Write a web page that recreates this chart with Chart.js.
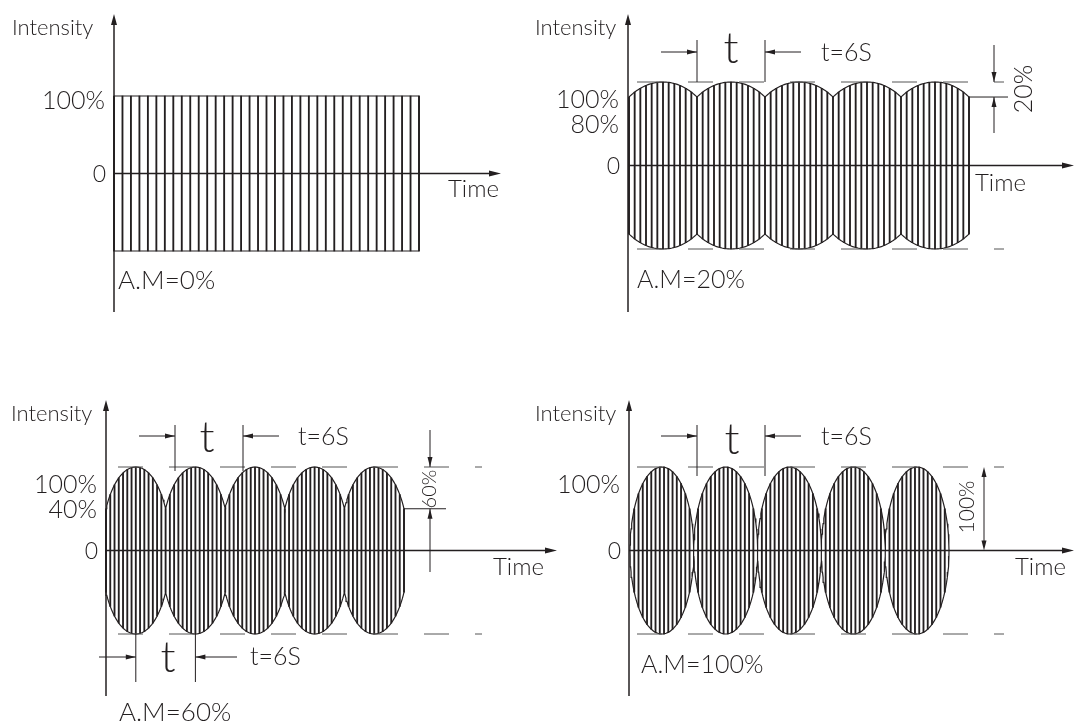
<!DOCTYPE html>
<html>
<head>
<meta charset="utf-8">
<script src="https://cdn.jsdelivr.net/npm/chart.js@4.4.1/dist/chart.umd.min.js"></script>
<style>
  body { margin: 0; background: #fff; width: 1075px; height: 724px; position: relative; overflow: hidden; }
  canvas { position: absolute; }
</style>
</head>
<body>
<canvas id="c1" width="520" height="340" style="left:0;top:0"></canvas>
<canvas id="c2" width="555" height="340" style="left:520px;top:0"></canvas>
<canvas id="c3" width="560" height="339" style="left:0;top:385px"></canvas>
<canvas id="c4" width="555" height="339" style="left:520px;top:385px"></canvas>
<script>
// ---- data ----
const amLabels = ['A.M=0%', 'A.M=20%', 'A.M=60%', 'A.M=100%'];
const amDepth = [0, 20, 60, 100];
const troughLevel = [100, 82, 50, 0];      // where the lobes meet, as drawn (%)
const lobeCount = [0, 5, 5, 5];
const pulseCount = [36, 60, 70, 75];       // carrier lines in each panel
const levelLabels = [['100%'], ['100%', '80%'], ['100%', '40%'], ['100%']];
const periodSec = 6;                       // t = 6S
const durationSec = 30;
const peak = 100;

const ink = '#231f20';
const font = 'Lato, "Open Sans", sans-serif';

// page positions of each panel (layout only)
const frames = [
  { left: 0,   top: 0,   w: 520, h: 340, x0: 114, x1: 419, yTop: 96,  yBot: 251, axisX: 114, axisTop: 14,  axisBot: 312, arrowX: 501,  labelX: 12 },
  { left: 520, top: 0,   w: 555, h: 340, x0: 629, x1: 969, yTop: 82,  yBot: 249, axisX: 628, axisTop: 14,  axisBot: 312, arrowX: 1074, labelX: 535 },
  { left: 0,   top: 385, w: 560, h: 339, x0: 106, x1: 404, yTop: 467, yBot: 634, axisX: 106, axisTop: 400, axisBot: 696, arrowX: 557,  labelX: 11 },
  { left: 520, top: 385, w: 555, h: 339, x0: 630, x1: 949, yTop: 467, yBot: 634, axisX: 629, axisTop: 400, axisBot: 696, arrowX: 1074, labelX: 535 }
];

function envelope(t, m) {
  if (m >= 1) return peak;
  const half = periodSec / 2;
  const u = ((t % periodSec) - half) / half;
  return peak * Math.sqrt(Math.max(0, 1 - (1 - m * m) * u * u));
}

function outline(m, lobes) {
  if (lobes === 0 || m >= 1) {
    return [{x: 0, y: peak}, {x: durationSec, y: peak}, {x: durationSec, y: -peak}, {x: 0, y: -peak}, {x: 0, y: peak}];
  }
  const half = periodSec / 2;
  const th0 = Math.asin(Math.sqrt(1 - m * m));
  const rx = half / Math.sin(th0);
  const top = [];
  for (let k = 0; k < lobes; k++) {
    const cx = k * periodSec + half;
    for (let i = 0; i <= 48; i++) {
      const th = -th0 + 2 * th0 * i / 48;
      top.push({x: cx + rx * Math.sin(th), y: peak * Math.cos(th)});
    }
  }
  const bot = top.map(p => ({x: p.x, y: -p.y})).reverse();
  return top.concat(bot, [top[0]]);
}

function pulses(i) {
  const m = troughLevel[i] / 100;
  const out = [];
  for (let k = 0; k <= pulseCount[i]; k++) {
    const t = k * durationSec / pulseCount[i];
    const e = envelope(t, m);
    out.push({x: t, y: [-e, e]});
  }
  return out;
}

// ---- drawing helpers (page coordinates) ----
function head(ctx, x, y, dir, len = 10, hw = 3) {
  ctx.beginPath();
  if (dir === 'up')    { ctx.moveTo(x, y); ctx.lineTo(x - hw, y + len); ctx.lineTo(x + hw, y + len); }
  if (dir === 'down')  { ctx.moveTo(x, y); ctx.lineTo(x - hw, y - len); ctx.lineTo(x + hw, y - len); }
  if (dir === 'left')  { ctx.moveTo(x, y); ctx.lineTo(x + len, y - hw); ctx.lineTo(x + len, y + hw); }
  if (dir === 'right') { ctx.moveTo(x, y); ctx.lineTo(x - len, y - hw); ctx.lineTo(x - len, y + hw); }
  ctx.closePath();
  ctx.fill();
}
function line(ctx, x1, y1, x2, y2, w = 1) {
  ctx.lineWidth = w;
  ctx.beginPath(); ctx.moveTo(x1, y1); ctx.lineTo(x2, y2); ctx.stroke();
}
function text(ctx, s, x, y, size, align = 'left', weight = '300') {
  ctx.font = weight + ' ' + size + 'px ' + font;
  ctx.textAlign = align;
  ctx.textBaseline = 'alphabetic';
  ctx.fillText(s, x, y);
}
function vtext(ctx, s, cx, cy, size) {
  ctx.save();
  ctx.translate(cx, cy);
  ctx.rotate(-Math.PI / 2);
  ctx.font = '300 ' + size + 'px ' + font;
  ctx.textAlign = 'center';
  ctx.textBaseline = 'middle';
  ctx.fillText(s, 0, 0);
  ctx.restore();
}
function dashed(ctx, y, xs, xe) {
  ctx.save();
  ctx.strokeStyle = '#555';
  ctx.setLineDash([25, 26]);
  line(ctx, xs, y, xe, y, 1);
  ctx.restore();
}
function tGlyph(ctx, cx, baseline) {
  ctx.font = '300 44px Lato, sans-serif';
  ctx.textAlign = 'center';
  ctx.fillText('t', cx, baseline);
}
// horizontal dimension: extension lines at xa, xb, arrows pointing in from outside
function dim(ctx, xa, xb, yExtTop, yExtBot, yArr, outerL, outerR) {
  line(ctx, xa, yExtTop, xa, yExtBot);
  line(ctx, xb, yExtTop, xb, yExtBot);
  line(ctx, outerL, yArr, xa, yArr); head(ctx, xa, yArr, 'right', 10, 2.5);
  line(ctx, outerR, yArr, xb, yArr); head(ctx, xb, yArr, 'left', 10, 2.5);
}

function decor(i) {
  const f = frames[i];
  return {
    id: 'decor' + i,
    afterDraw(chart) {
      const ctx = chart.ctx;
      const X = t => chart.scales.x.getPixelForValue(t) + f.left;
      const Y = v => chart.scales.y.getPixelForValue(v) + f.top;
      ctx.save();
      ctx.translate(-f.left, -f.top);
      ctx.strokeStyle = ink; ctx.fillStyle = ink;

      // axes
      line(ctx, f.axisX, f.axisBot, f.axisX, f.axisTop + 6, 1.5);
      head(ctx, f.axisX, f.axisTop, 'up', 11, 3);
      const y0 = Y(0);
      line(ctx, f.axisX, y0, f.arrowX - 6, y0, 1.6);
      head(ctx, f.arrowX, y0, 'right', 12, 3);

      // common labels
      text(ctx, 'Intensity', f.labelX, f.axisTop + 21, 22);
      const lab = levelLabels[i];
      if (i === 0) {
        text(ctx, lab[0], f.axisX - 9, Y(peak) + 13, 25, 'right');
      } else {
        text(ctx, lab[0], f.axisX - 9, Y(peak) + 26, 25, 'right');
        if (lab[1]) text(ctx, lab[1], f.axisX - 9, Y(peak) + 51, 25, 'right');
      }
      text(ctx, '0', f.axisX - 8, y0 + 8, 23, 'right');

      if (i === 0) {
        text(ctx, 'Time', 448, 197, 24);
        text(ctx, amLabels[0], 118, 289, 26);
      }
      if (i === 1) {
        text(ctx, 'Time', 975, 191, 24);
        text(ctx, amLabels[1], 637, 288, 25);
        dashed(ctx, Y(peak), 637, 1004);
        dashed(ctx, Y(-peak), 637, 1004);
        dim(ctx, X(periodSec), X(2 * periodSec), 40, Y(peak), 52, 661, 801);
        tGlyph(ctx, 731, 63);
        text(ctx, 't=6S', 821, 61, 25);
        const yt = Y(troughLevel[1]);
        line(ctx, X(durationSec), yt, 1008, yt);
        line(ctx, 994, 45, 994, Y(peak)); head(ctx, 994, Y(peak), 'down', 10, 2.5);
        line(ctx, 994, 133, 994, yt); head(ctx, 994, yt, 'up', 10, 2.5);
        vtext(ctx, '20%', 1024, 89, 25);
      }
      if (i === 2) {
        text(ctx, 'Time', 493, 575, 24);
        text(ctx, amLabels[2], 119, 721, 26);
        dashed(ctx, Y(peak), 118, 482);
        dashed(ctx, Y(-peak), 118, 482);
        dim(ctx, 175, 243, 425, Y(peak) + 4, 436, 139, 279);
        tGlyph(ctx, 207, 452);
        text(ctx, 't=6S', 298, 445, 25);
        dim(ctx, X(periodSec / 2), X(periodSec * 1.5), Y(-peak), 682, 657, 99, 237);
        tGlyph(ctx, 168, 672);
        text(ctx, 't=6S', 250, 665, 25);
        const yt = Y(troughLevel[2]);
        line(ctx, X(durationSec), yt, 446, yt);
        line(ctx, 430, 430, 430, Y(peak)); head(ctx, 430, Y(peak), 'down', 10, 2.5);
        line(ctx, 430, 572, 430, yt); head(ctx, 430, yt, 'up', 10, 2.5);
        vtext(ctx, '60%', 430, 489, 20);
      }
      if (i === 3) {
        text(ctx, 'Time', 1015, 575, 24);
        text(ctx, amLabels[3], 641, 673, 25);
        dashed(ctx, Y(peak), 637, 1004);
        dashed(ctx, Y(-peak), 637, 1004);
        dim(ctx, 697, 765, 425, 476, 436, 661, 801);
        tGlyph(ctx, 732, 454);
        text(ctx, 't=6S', 821, 445, 25);
        line(ctx, 984, Y(peak) + 4, 984, y0 - 4);
        head(ctx, 984, Y(peak), 'up', 10, 2.5);
        head(ctx, 984, y0, 'down', 10, 2.5);
        vtext(ctx, '100%', 967, 507, 21);
      }
      ctx.restore();
    }
  };
}

frames.forEach((f, i) => {
  const xv = px => (px - f.x0) / (f.x1 - f.x0) * durationSec;
  const yv = py => peak - 2 * peak * (py - f.yTop) / (f.yBot - f.yTop);
  new Chart(document.getElementById('c' + (i + 1)), {
    type: 'bar',
    data: {
      datasets: [
        {
          type: 'line',
          data: outline(troughLevel[i] / 100, lobeCount[i]),
          borderColor: ink,
          borderWidth: 1.2,
          pointRadius: 0,
          tension: 0,
          fill: false,
          order: 0
        },
        {
          type: 'bar',
          data: pulses(i),
          backgroundColor: ink,
          borderWidth: 0,
          barThickness: 1.2,
          order: 1
        }
      ]
    },
    options: {
      responsive: false,
      animation: false,
      events: [],
      plugins: { legend: { display: false }, tooltip: { enabled: false } },
      scales: {
        x: { type: 'linear', display: false, offset: false, min: xv(f.left), max: xv(f.left + f.w) },
        y: { type: 'linear', display: false, min: yv(f.top + f.h), max: yv(f.top) }
      }
    },
    plugins: [decor(i)]
  });
});
</script>
</body>
</html>
